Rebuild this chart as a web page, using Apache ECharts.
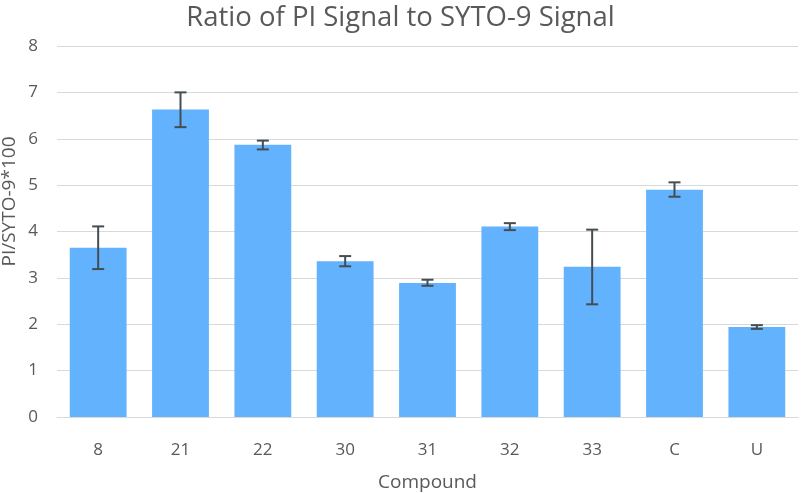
<!DOCTYPE html>
<html><head><meta charset="utf-8">
<script src="https://cdn.jsdelivr.net/npm/echarts@6/dist/echarts.min.js"></script>
<style>html,body{margin:0;padding:0;background:#fff}#c{width:801px;height:493px}</style>
</head><body><div id="c"></div>
<script>
var categories = ['8','21','22','30','31','32','33','C','U'];
var values = [3.65, 6.63, 5.87, 3.36, 2.89, 4.11, 3.24, 4.90, 1.94];
var errLow = [3.19, 6.25, 5.77, 3.25, 2.83, 4.03, 2.43, 4.75, 1.90];
var errHigh = [4.11, 7.00, 5.96, 3.47, 2.96, 4.18, 4.04, 5.06, 1.98];
var yTicks = [0,1,2,3,4,5,6,7,8];

var font = '"Open Sans", sans-serif';
var chart = echarts.init(document.getElementById('c'), null, {renderer:'canvas'});
chart.setOption({
  animation:false,
  title:{text:'Ratio of PI Signal to SYTO-9 Signal', left:'center', top:-1,
    textStyle:{fontFamily:font, fontSize:27.5, fontWeight:'normal', color:'#595959'}},
  grid:{left:57, right:3, top:46, bottom:76, outerBoundsMode:'none', containLabel:false},
  xAxis:{type:'category', data:categories, name:'Compound', nameLocation:'middle', nameGap:56,
    nameMoveOverlap:false,
    nameTextStyle:{fontFamily:font, fontSize:19, color:'#595959'},
    axisLine:{lineStyle:{color:'#d9d9d9', width:1}}, axisTick:{show:false},
    axisLabel:{fontFamily:font, fontSize:17, color:'#595959', margin:25}},
  yAxis:{type:'value', min:yTicks[0], max:yTicks[yTicks.length-1], interval:1,
    name:'PI/SYTO-9*100', nameLocation:'middle', nameGap:38, nameMoveOverlap:false,
    nameTextStyle:{fontFamily:font, fontSize:19, color:'#595959', padding:[0,0,0,60]},
    axisLine:{show:false}, axisTick:{show:false},
    axisLabel:{fontFamily:font, fontSize:17, color:'#595959', margin:19},
    splitLine:{lineStyle:{color:'#d9d9d9', width:1}}},
  series:[
    {type:'bar', data:values, barCategoryGap:'31%', itemStyle:{color:'#62b2fd'}},
    {type:'custom', z:10,
     data:categories.map(function(c,i){return [i, errLow[i], errHigh[i]];}),
     renderItem:function(params, api){
       var x = api.value(0);
       var lo = api.coord([x, api.value(1)]);
       var hi = api.coord([x, api.value(2)]);
       var hw = 6;
       var st = {stroke:'#454d52', lineWidth:2};
       return {type:'group', children:[
         {type:'line', shape:{x1:lo[0], y1:lo[1], x2:hi[0], y2:hi[1]}, style:st},
         {type:'line', shape:{x1:lo[0]-hw, y1:lo[1], x2:lo[0]+hw, y2:lo[1]}, style:st},
         {type:'line', shape:{x1:hi[0]-hw, y1:hi[1], x2:hi[0]+hw, y2:hi[1]}, style:st}
       ]};
     }}
  ]
});
</script></body></html>
